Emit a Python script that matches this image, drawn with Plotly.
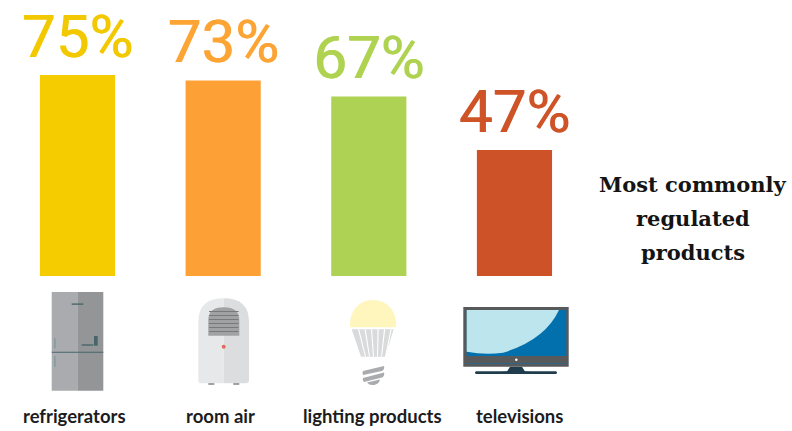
import plotly.graph_objects as go

# Share of regulated markets per product group
categories = ["refrigerators", "room air", "lighting products", "televisions"]
shares = [75, 73, 67, 47]
bar_colors = ["#F5CC00", "#FDA136", "#AED253", "#CD5228"]
label_colors = ["#F2C900", "#FCA535", "#AFD351", "#CE5327"]
label_nudges = [-3, -2, 4, 6]
title_lines = ["Most commonly", "regulated", "products"]

W, H = 792, 431
fig = go.Figure()

fig.add_bar(
    x=categories, y=shares, width=0.516,
    marker=dict(color=bar_colors, line_width=0),
    text=[f"{v}%" for v in shares], textposition="outside", constraintext="none",
    textfont=dict(family="Roboto", size=60, color=label_colors,
                  shadow=[f"0.8px 0 0 {c}" for c in label_colors]),
    cliponaxis=False, hoverinfo="skip",
)

# Icon layer: an invisible axis pair spanning the page in pixel units
def rect(x0, y0, x1, y1, color):
    return dict(type="rect", xref="x2", yref="y2", x0=x0, y0=y0, x1=x1, y1=y1,
                fillcolor=color, line_width=0, layer="above")

def path(d, color):
    return dict(type="path", xref="x2", yref="y2", path=d,
                fillcolor=color, line_width=0, layer="above")

def dot(cx, cy, r, color):
    return dict(type="circle", xref="x2", yref="y2", x0=cx - r, y0=cy - r, x1=cx + r, y1=cy + r,
                fillcolor=color, line_width=0, layer="above")

shapes = []

# Refrigerator
shapes += [
    rect(51.7, 292, 77.3, 390.7, "#A9ABAE"),
    rect(77.3, 292, 103.3, 390.7, "#949597"),
    rect(51.7, 351.7, 103.3, 352.7, "#47666C"),
    rect(71.7, 303.4, 83.3, 304.8, "#47666C"),
    rect(81.7, 344.3, 93.3, 345.7, "#47666C"),
    rect(94, 336, 97.7, 345.7, "#47666C"),
    rect(54, 338.3, 55.7, 348.3, "#869CA1"),
    rect(54, 356, 55.7, 366.7, "#869CA1"),
]

# Room air unit
shapes += [
    rect(208.3, 383, 214.3, 384.8, "#8A8C8E"),
    rect(233.3, 383, 239.3, 384.8, "#8A8C8E"),
    path("M198.3,380 L198.3,322 Q198.3,298.3 223.7,298.3 L223.7,383.3 L201,383.3 Q198.3,383.3 198.3,380 Z", "#E7E8E9"),
    path("M223.7,298.3 Q249,298.3 249,322 L249,380 Q249,383.3 246,383.3 L223.7,383.3 Z", "#DCDDDE"),
    path("M208.3,335.7 L208.3,320 Q208.3,307.3 223.7,307.3 Q239.3,307.3 239.3,320 L239.3,335.7 Z", "#A0A2A4"),
    dot(223.7, 346.7, 2, "#E2695C"),
]
for y in range(311, 335, 4):
    shapes.append(rect(209, y, 238.6, y + 1, "#77797B"))

# Light bulb
shapes += [
    path("M350,327.3 C349,312 358,300 373,300 C388,300 397,312 396,327.3 Z", "#FFF6BE"),
    path("M351.7,329.3 L393.7,329.3 L385,356.7 L361,356.7 Z", "#D9DADB"),
]
for top, bottom in [(358, 365), (364.5, 369), (371, 373), (377.5, 377), (384, 381), (390.5, 385)]:
    shapes.append(path(f"M{top},329.3 L{top + 1.2},329.3 L{bottom + 1},356.7 L{bottom},356.7 Z", "#FFFFFF"))
shapes += [
    path("M363,371 L384,366 Q385,369 382,371 L363,375 Q362,373 363,371 Z", "#A9ABAE"),
    path("M363,378 L384,372.5 Q385,375.5 382,377.5 L364,382 Q362,380 363,378 Z", "#A9ABAE"),
    path("M367,382.5 L380,379.5 Q379,384 374,385 Q369,385.5 367,382.5 Z", "#A9ABAE"),
]

# Television
shapes += [
    path("M510,366.7 L522,366.7 L525,371.5 L532,372 L500,372 L507,371.5 Z", "#1F3D4C"),
    path("M476,371.3 L556,371.3 Q558,372.6 556,374 L476,374 Q474,372.6 476,371.3 Z", "#1F3D4C"),
    rect(463.3, 307, 568.7, 366.7, "#58595B"),
    rect(466.7, 310, 566.3, 356, "#0270AD"),
    path("M466.7,310 L559,310 Q545,340 503,352.7 Q485,355 466.7,351.7 Z", "#BDE5EE"),
    rect(466.7, 363, 566.3, 363.6, "#0270AD"),
    dot(516.3, 359.7, 1.3, "#FFFFFF"),
]

fig.update_layout(
    width=W, height=H, margin=dict(l=0, r=0, t=0, b=0, pad=0),
    paper_bgcolor="#FFFFFF", plot_bgcolor="rgba(0,0,0,0)",
    showlegend=False, shapes=shapes,
    xaxis=dict(domain=[4.67 / W, 587.3 / W], range=[-0.5, 3.5], type="category",
               visible=False, fixedrange=True),
    yaxis=dict(domain=[(H - 276) / H, 1], range=[0, 103.0], visible=False, fixedrange=True),
    xaxis2=dict(domain=[0, 1], range=[0, W], visible=False, anchor="y2", fixedrange=True),
    yaxis2=dict(domain=[0, 1], range=[H, 0], visible=False, anchor="x2", fixedrange=True),
)

annotations = []
for name, nudge in zip(categories, label_nudges):
    annotations.append(dict(
        x=name, y=0, xref="x", yref="y", xshift=nudge - 0.5, yshift=-140, yanchor="middle",
        text=name, showarrow=False,
        font=dict(family="Lato", size=18.5, color="#1C1C1E", weight=700),
    ))
for line, y in zip(title_lines, [184, 218, 252]):
    annotations.append(dict(
        x=692.5, y=y, xref="x2", yref="y2", yanchor="middle", text=line, showarrow=False,
        font=dict(family="DejaVu Serif", size=21, color="#141414", weight=700),
    ))
fig.update_layout(annotations=annotations)
fig.add_scatter(x=[0], y=[0], xaxis="x2", yaxis="y2", mode="markers", marker_opacity=0, hoverinfo="skip")

fig.write_html("out.html", config=dict(displayModeBar=False))
